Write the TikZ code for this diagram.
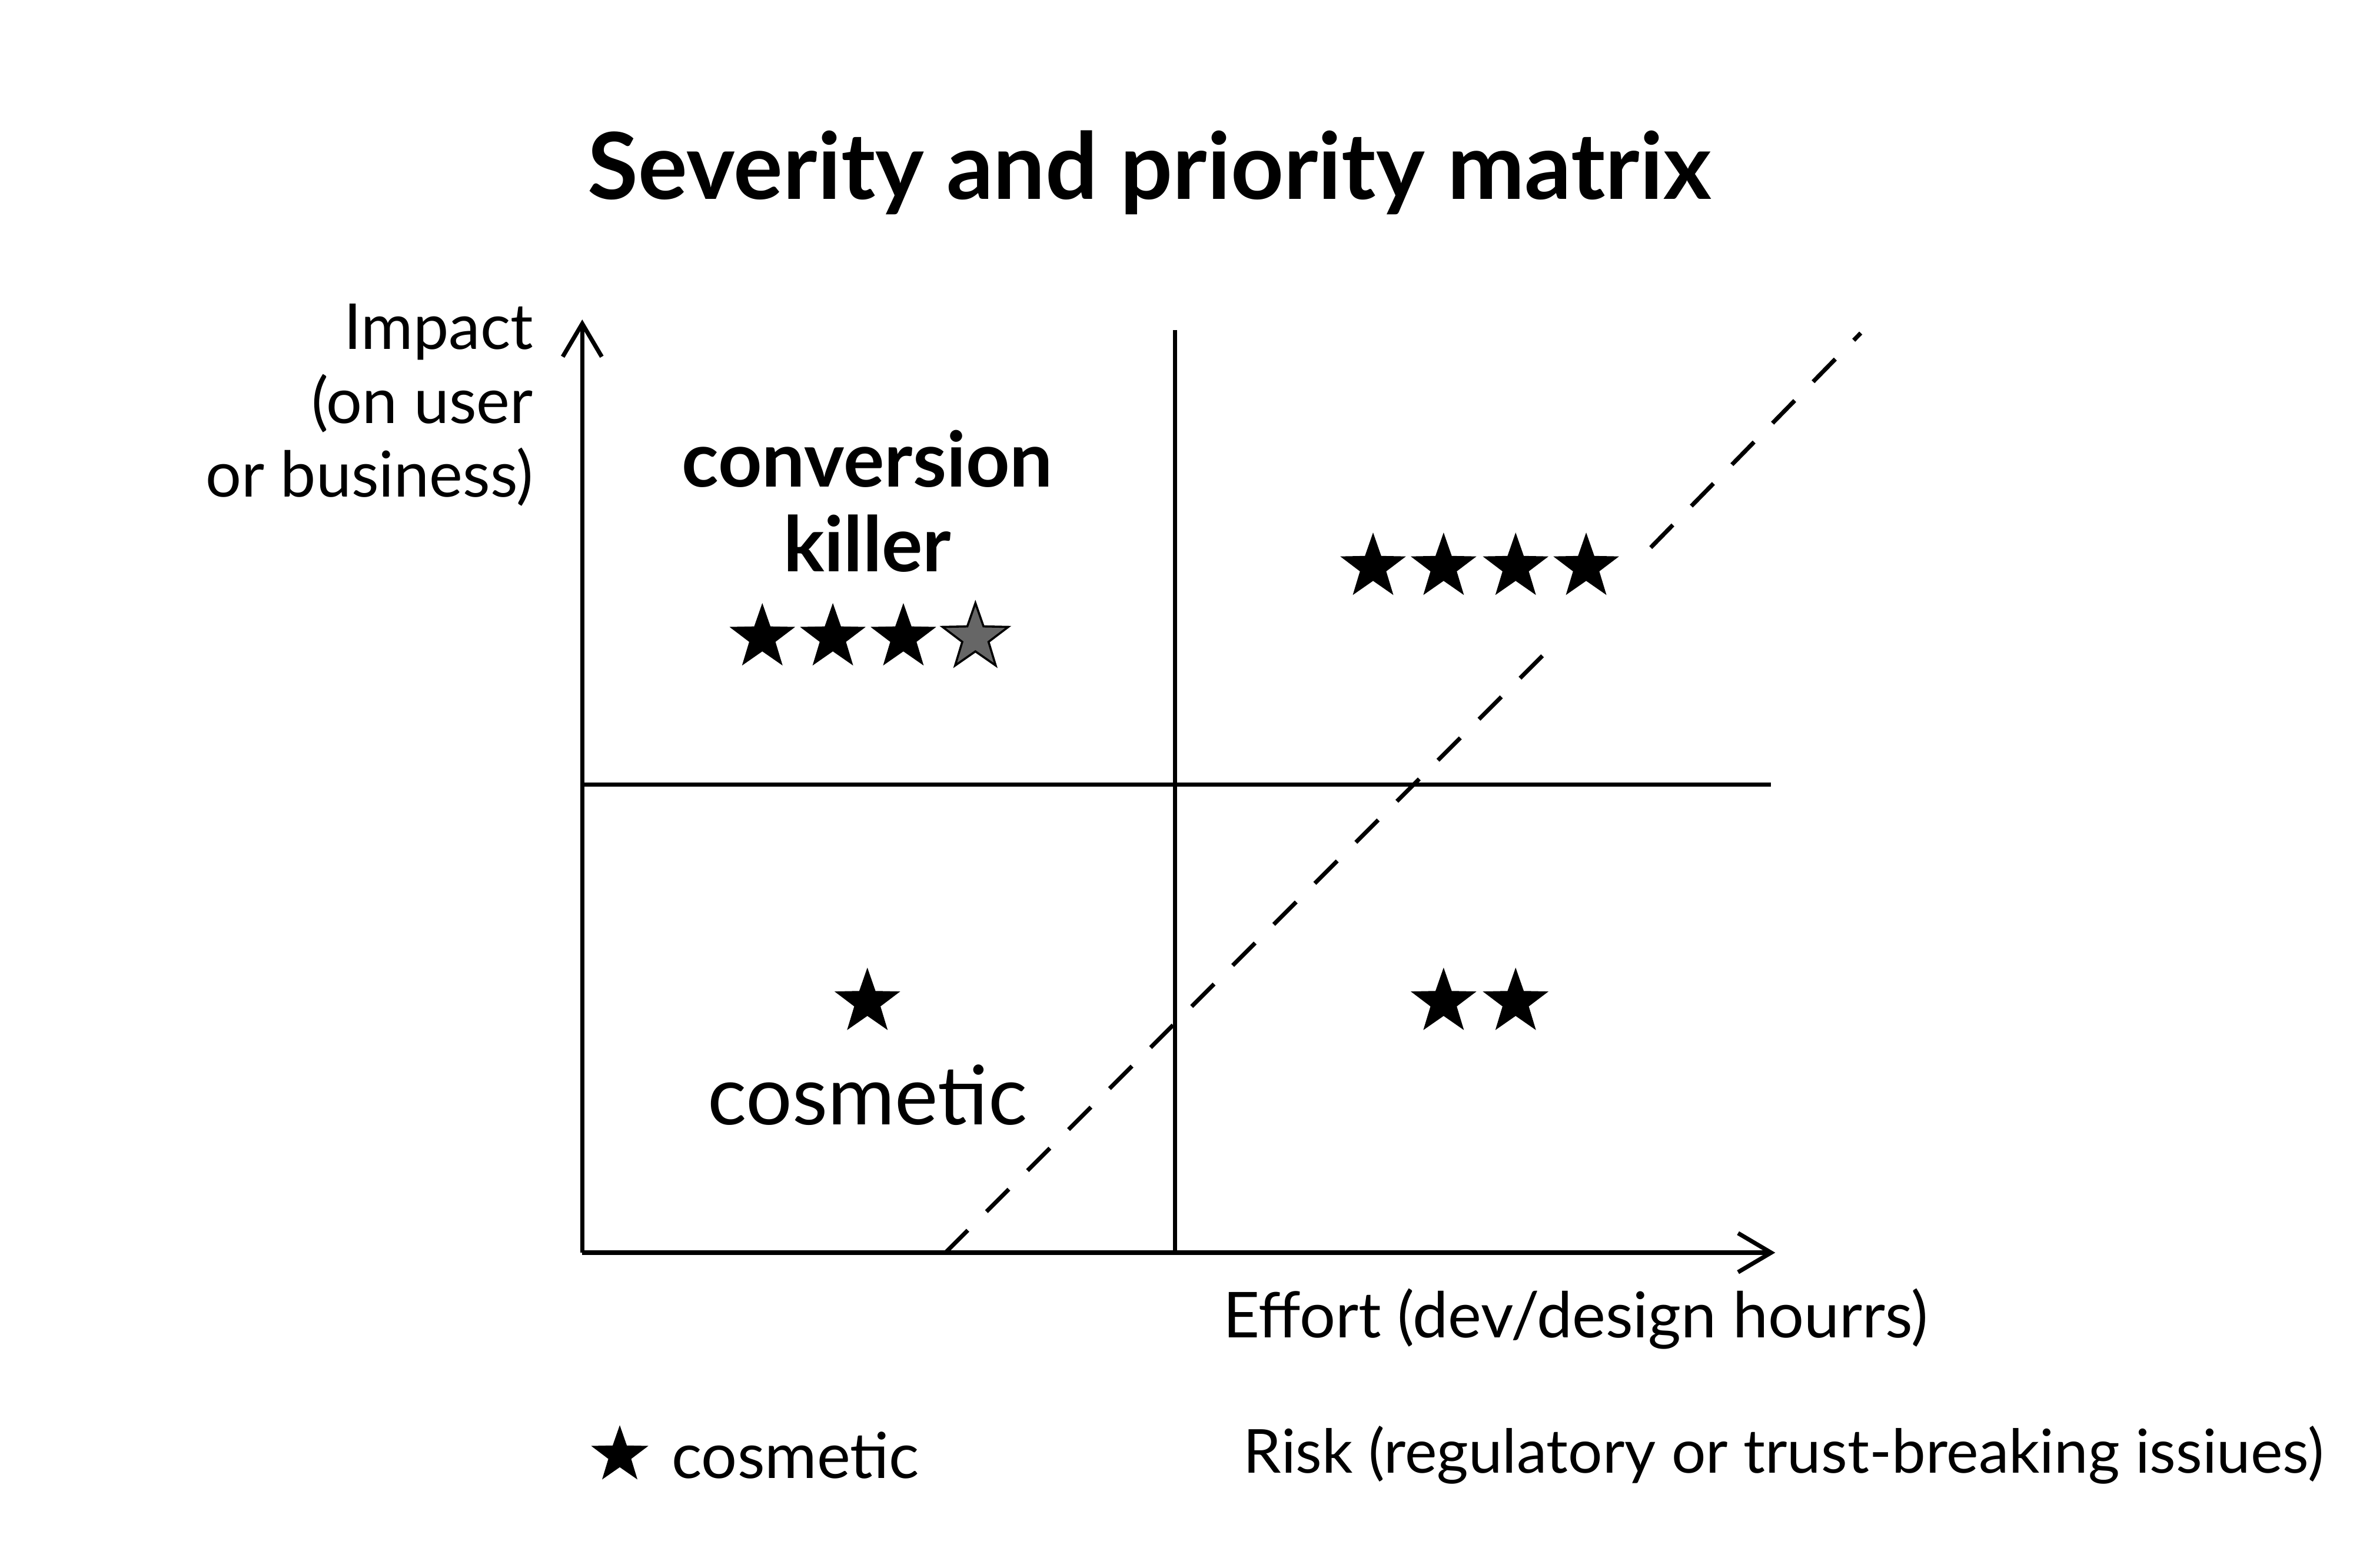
\documentclass[tikz,border=0pt]{standalone}
\usepackage{fontspec}
\setmainfont{Lato}
\usetikzlibrary{shapes.geometric,arrows.meta}
\begin{document}
\begin{tikzpicture}[x=0.01cm,y=-0.01cm,
  stf/.style={star,star points=5,star point ratio=2.5,fill=black,draw=none,minimum size=0.46cm,inner sep=0pt},
  stg/.style={stf,fill=black!60,draw=black,line width=0.4pt},
  axis/.style={line width=0.8pt,-{Straight Barb[length=2.2mm,width=2.6mm]}},
  grid/.style={line width=0.8pt},
  lbl/.style={font=\fontsize{12}{13}\selectfont,inner sep=0pt}]
\useasboundingbox (0,0) rectangle (1568,1045);
\node[font=\fontsize{17.5}{20}\selectfont\bfseries,inner sep=0pt] (title) at (766,115) {Severity and priority matrix};
% axes
\coordinate (o) at (388,835);
\coordinate (ytop) at (388,213);
\coordinate (xend) at (1183,835);
\draw[axis] (o) -- (ytop);
\draw[axis] (o) -- (xend);
\coordinate (vt) at (783,220); \coordinate (vb) at (783,835);
\coordinate (hl) at (388,523); \coordinate (hr) at (1180,523);
\draw[grid] (vt) -- (vb);
\draw[grid] (hl) -- (hr);
% dashed
\coordinate (d1) at (630,835); \coordinate (d2) at (1035,430);
\coordinate (d3) at (1100,365); \coordinate (d4) at (1240,222);
\draw[line width=0.8pt,dash pattern=on 6pt off 5pt] (d1) -- (d2);
\draw[line width=0.8pt,dash pattern=on 6pt off 5pt] (d3) -- (d4);
% labels
\node[lbl,align=right,anchor=east] (imp) at (356,270) {Impact\\[1pt](on user\\[1pt]or business)};
\node[align=center,font=\fontsize{14.5}{16}\selectfont\bfseries,inner sep=0pt] (ck) at (578,334) {conversion\\killer};
\node[stf] (s1) at (508,425) {}; \node[stf] (s2) at (555,425) {};
\node[stf] (s3) at (602,425) {}; \node[stg] (s4) at (650,425) {};
\node[stf] (t1) at (915,378) {}; \node[stf] (t2) at (962,378) {};
\node[stf] (t3) at (1010,378) {}; \node[stf] (t4) at (1057,378) {};
\node[stf] (c1) at (578,668) {};
\node[font=\fontsize{15.5}{16}\selectfont,inner sep=0pt] (cos) at (578,730) {cosmetic};
\node[stf] (u1) at (962,668) {}; \node[stf] (u2) at (1010,668) {};
\node[lbl] (eff) at (1050,879) {Effort (dev/design hourrs)};
\node[stf,minimum size=0.4cm] (ls) at (413,970) {};
\node[lbl,anchor=west] (lc) at (447,970) {cosmetic};
\node[lbl,anchor=west,font=\fontsize{11.5}{12}\selectfont] (risk) at (828,970) {Risk (regulatory or trust-breaking issiues)};
\end{tikzpicture}
\end{document}
